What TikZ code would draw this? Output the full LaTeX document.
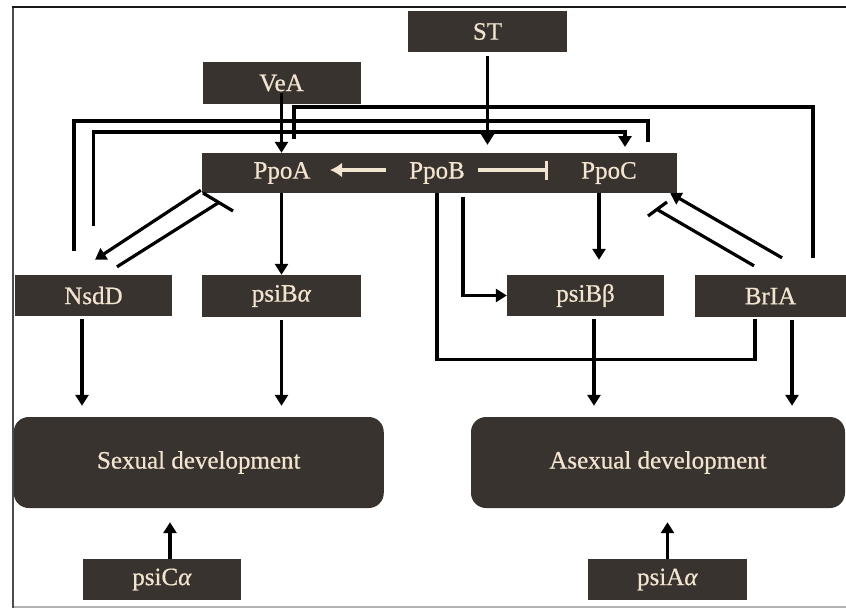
\documentclass[tikz,border=0pt]{standalone}
\usepackage{fontspec}
\setmainfont{Liberation Serif}
\newfontfamily\boxfont[FakeBold=0.6]{Liberation Serif}
\usetikzlibrary{arrows.meta,calc}
\definecolor{boxfill}{HTML}{38332E}
\definecolor{cream}{HTML}{F2E4CF}
\begin{document}
\begin{tikzpicture}[x=1pt,y=-1pt,
  box/.style={draw=none, fill=boxfill, text=cream, font=\boxfont\fontsize{25}{28}\selectfont, inner sep=0pt, anchor=center},
  rbox/.style={box, rounded corners=15pt},
  lbl/.style={text=cream, font=\boxfont\fontsize{25}{28}\selectfont, inner sep=0pt, anchor=center},
  ln/.style={draw=black, line width=3.2pt},
  arr/.style={ln, -{Triangle[length=11pt,width=13pt]}},
  carr/.style={draw=cream, line width=4pt, -{Latex[length=12pt,width=15pt]}},
  cbar/.style={draw=cream, line width=3.5pt, -{Bar[width=19pt]}},
  frameline/.style={line width=2pt}
]
\useasboundingbox (0,0) rectangle (846,608);
\fill[white] (0,0) rectangle (846,608);
% frame
\draw[frameline, draw=black!30] (13,607) -- (846,607);
\draw[frameline, draw=black!70] (13,608) -- (13,7);
\draw[line width=2.5pt, draw=black!90] (12,7) -- (846,7);

% nodes
\node[box, minimum width=159pt, minimum height=41pt] (ST) at (487.5,31.5) {ST};
\node[box, minimum width=158pt, minimum height=42pt] (VeA) at (281.5,83) {VeA};
\node[box, minimum width=475pt, minimum height=40pt] (ppo) at (439.5,173) {};
\node[lbl] (PpoA) at (282,173) {PpoA};
\node[lbl] (PpoB) at (437,173) {PpoB};
\node[lbl] (PpoC) at (609,173) {PpoC};
\node[box, minimum width=157pt, minimum height=41pt] (NsdD) at (93.5,295.5) {NsdD};
\node[box, minimum width=159pt, minimum height=42pt] (psiBa) at (281.5,296) {psiB\textit{α}};
\node[box, minimum width=157pt, minimum height=41pt] (psiBb) at (585.5,295.5) {psiBβ};
\node[box, minimum width=151pt, minimum height=42pt] (BrIA) at (770.5,296) {BrIA};
\node[rbox, minimum width=370pt, minimum height=91pt] (sex) at (198.75,462.5) {Sexual development};
\node[rbox, minimum width=374pt, minimum height=91pt] (asex) at (658,462.5) {Asexual development};
\node[box, minimum width=158pt, minimum height=41pt] (psiCa) at (162,579.5) {psiC\textit{α}};
\node[box, minimum width=159pt, minimum height=41pt] (psiAa) at (667.5,579.5) {psiA\textit{α}};

% coordinates for loop lines
\coordinate (topA) at (294,107);
\coordinate (endA) at (294,139);
\coordinate (outC) at (648,121);
\coordinate (outCend) at (648,142);
\coordinate (inC) at (625,132);
\coordinate (inCend) at (625,147);
\coordinate (barA1) at (203,193);
\coordinate (barA2) at (233,211);
\coordinate (barC1) at (648,216);
\coordinate (barC2) at (667,202);

% cream arrows inside the Ppo box
\draw[carr] ($(ppo.center)+(-53.5,-3)$) -- ($(ppo.center)+(-109.5,-3)$);
\draw[cbar] ($(ppo.center)+(38.5,-3)$) -- ($(ppo.center)+(108.5,-3)$);

% top connectors
\draw[arr] ($(ST.south)+(0,4)$) -- ($(ST.south |- ppo.north)+(0,-8)$);
\draw[arr] ($(VeA.south)+(0,-11)$) -- (VeA.south |- ppo.north);
\draw[ln] ($(BrIA.north)+(42.5,-17)$) |- (topA) -- (endA);
\draw[ln] ($(NsdD.north)+(-19.5,-24)$) |- (outC) -- (outCend);
\draw[arr] ($(NsdD.north)+(0,-49)$) |- (inC) -- (inCend);

% PpoA <-> NsdD
\draw[arr] ($(ppo.south west)+(-1,-3)$) -- ($(NsdD.north)+(1.5,-15)$);
\draw[ln] ($(NsdD.north)+(23.5,-8)$) -- (218,203);
\draw[ln] (barA1) -- (barA2);

% BrIA <-> PpoC
\draw[arr] ($(BrIA.north)+(11.5,-17)$) -- ($(ppo.south east)+(-7,0)$);
\draw[ln] ($(BrIA.north)+(-16.5,-9)$) -- (658,210);
\draw[ln] (barC1) -- (barC2);

% Ppo box to second row
\draw[arr] (psiBa.north |- ppo.south) -- (psiBa.north);
\draw[arr] ($(psiBb.north)+(13.5,-82)$) -- ($(psiBb.north)+(13.5,-15)$);
\draw[arr] ($(ppo.south)+(23.5,4)$) |- (psiBb.west);
\draw[ln] ($(ppo.south)+(-2.5,0)$) |- ($(BrIA.south)+(-15.5,42)$) -- ($(BrIA.south)+(-15.5,2)$);

% second row to development boxes
\draw[arr] ($(NsdD.south)+(-11.5,3)$) -- ($(NsdD.south |- sex.north)+(-11.5,-11)$);
\draw[arr] ($(psiBa.south)+(0,3)$) -- ($(psiBa.south |- sex.north)+(0,-11)$);
\draw[arr] ($(psiBb.south)+(8.5,3)$) -- ($(psiBb.south |- asex.north)+(8.5,-11)$);
\draw[arr] ($(BrIA.south)+(21.5,3)$) -- ($(BrIA.south |- asex.north)+(21.5,-11)$);

% bottom inputs
\draw[arr] ($(psiCa.north)+(8,0)$) -- ($(psiCa.north |- sex.south)+(8,14)$);
\draw[arr] (psiAa.north) -- ($(psiAa.north |- asex.south)+(0,14)$);
\end{tikzpicture}
\end{document}
